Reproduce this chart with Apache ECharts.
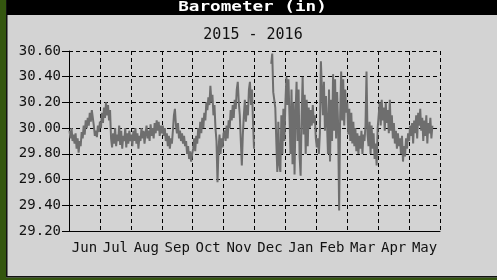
<!DOCTYPE html>
<html>
<head>
<meta charset="utf-8">
<script src="https://cdn.jsdelivr.net/npm/echarts@6/dist/echarts.min.js"></script>
<style>
    html, body { margin: 0; padding: 0; background: #d3d3d3; }
    #chart { width: 497px; height: 280px; }
</style>
</head>
<body>
<div id="chart"></div>
<script>
const months = ['Jun', 'Jul', 'Aug', 'Sep', 'Oct', 'Nov', 'Dec', 'Jan', 'Feb', 'Mar', 'Apr', 'May'];
const yTicks = { min: 29.2, max: 30.6, step: 0.2 };
const N = null;

// daily pressure (in), one value per day, Jun 2015 .. May 2016
const jun = [29.98, 29.92, 30.00, 29.90, 29.95, 29.88, 29.96, 29.84, 29.92, 29.81, 29.90, 29.86, 29.97, 29.92, 30.02, 29.95, 30.06, 30.00, 30.08, 30.02, 30.12, 30.05, 30.14, 30.08, 30.02, 29.94, 29.98, 29.93, 30.02, 29.97];
const jul = [30.05, 30.00, 30.12, 30.04, 30.16, 30.08, 30.20, 30.10, 30.18, 30.06, 30.14, 29.92, 29.85, 29.96, 29.88, 30.00, 29.86, 29.95, 29.90, 30.02, 29.87, 29.98, 29.84, 29.94, 29.90, 30.00, 29.85, 29.96, 29.88, 29.98, 29.90];
const aug = [29.95, 29.86, 29.98, 29.90, 30.00, 29.88, 29.96, 29.84, 29.94, 29.90, 30.00, 29.92, 29.98, 29.88, 29.96, 30.02, 29.92, 29.98, 29.90, 30.03, 29.94, 30.00, 29.92, 30.04, 29.96, 30.06, 29.98, 30.05, 29.94, 30.02, 29.96];
const sep = [30.02, 29.94, 30.00, 29.90, 29.96, 29.86, 29.94, 29.84, 29.92, 29.88, 29.98, 30.10, 30.15, 30.02, 29.96, 30.04, 29.92, 29.98, 29.90, 29.96, 29.88, 29.94, 29.86, 29.90, 29.80, 29.86, 29.76, 29.82, 29.74, 29.80];
const oct = [29.84, 29.92, 29.82, 29.94, 29.88, 30.00, 29.92, 30.05, 29.96, 30.08, 30.00, 30.12, 30.06, 30.20, 30.14, 30.24, 30.18, 30.33, 30.20, 30.26, 30.10, 30.18, 30.00, 29.90, 29.58, 29.84, 29.95, 29.80, 29.92, 29.85, 29.96];
const nov = [29.98, 29.90, 30.02, 29.92, 30.06, 30.00, 30.14, 30.06, 30.18, 30.08, 30.22, 30.15, 30.30, 30.36, 30.20, 30.10, 29.90, 29.71, 29.95, 30.10, 30.22, 30.05, 30.18, 30.10, 30.30, 30.36, 30.18, 30.30, 30.06, 29.84];
const dec = [N, N, N, N, N, N, N, N, N, N, N, N, N, N, N, N, 30.50, 30.58, 30.28, 30.22, 30.16, 29.90, 29.66, 30.05, 29.72, 29.66, 30.10, 29.80, 30.15, 29.90, 30.20];
const jan = [30.40, 30.18, 30.38, 30.10, 29.80, 30.30, 29.72, 30.20, 29.64, 30.12, 30.36, 29.90, 30.30, 29.78, 29.63, 30.10, 30.40, 29.95, 30.26, 29.80, 30.22, 29.86, 30.16, 30.00, 30.14, 30.02, 30.18, 30.04, 30.10, 29.92, 29.85];
const feb = [29.92, 29.80, 29.96, 30.52, 30.30, 30.10, 30.36, 29.98, 30.25, 30.04, 29.80, 30.30, 29.74, 30.22, 29.90, 30.42, 29.98, 30.38, 29.92, 30.28, 30.02, 29.36, 30.10, 30.44, 30.06, 30.38, 30.02, 30.30, 30.12];
const mar = [30.20, 29.95, 30.15, 29.90, 30.12, 29.88, 30.05, 29.86, 30.00, 29.82, 29.96, 29.80, 29.94, 29.84, 29.98, 29.80, 29.95, 29.90, 30.02, 30.44, 29.95, 29.86, 30.05, 29.80, 30.02, 29.84, 29.96, 29.76, 29.88, 29.71, 30.00];
const apr = [30.10, 30.20, 30.02, 30.22, 30.06, 30.16, 29.98, 30.20, 30.04, 30.14, 29.96, 30.22, 29.98, 30.10, 29.92, 30.04, 29.88, 29.98, 29.84, 29.96, 29.86, 29.92, 29.80, 29.94, 29.74, 29.86, 29.78, 29.92, 29.84, 29.96];
const may = [29.90, 30.02, 29.94, 30.04, 29.88, 30.06, 29.96, 30.10, 29.92, 30.12, 30.02, 30.15, 29.98, 30.08, 29.90, 30.06, 29.94, 30.10, 29.88, 30.04, 29.96, 30.08, 29.92, 30.02, N, N, N, N, N, N, N];

const daily = [].concat(jun, jul, aug, sep, oct, nov, dec, jan, feb, mar, apr, may);
const seriesData = daily.map((v, i) => [i + 0.5, v === null ? '-' : v]);

const mono = 'DejaVu Sans Mono';
const chart = echarts.init(document.getElementById('chart'));
chart.setOption({
    backgroundColor: '#d3d3d3',
    animation: false,
    grid: { left: 69, right: 57, top: 51, bottom: 49 },
    graphic: [
        { type: 'rect', shape: { x: 0, y: 0, width: 6, height: 280 }, style: { fill: '#34560f' } },
        { type: 'rect', shape: { x: 6, y: 0, width: 1.5, height: 277 }, style: { fill: '#111' } },
        { type: 'rect', shape: { x: 0, y: 277.5, width: 497, height: 3 }, style: { fill: '#34560f' } },
        { type: 'rect', shape: { x: 6, y: 276, width: 491, height: 1.5 }, style: { fill: '#111' } },
        { type: 'rect', shape: { x: 7, y: 0, width: 490, height: 15 }, style: { fill: '#000' } },
        {
            type: 'text', x: 252.5, y: 7, scaleX: 1.26,
            style: { text: 'Barometer (in)', fill: '#fff', font: 'bold 14px "DejaVu Sans Mono"', textAlign: 'center', textVerticalAlign: 'middle' }
        },
        {
            type: 'text', x: 253, y: 35,
            style: { text: '2015 - 2016', fill: '#111', font: '15px "DejaVu Sans Mono"', textAlign: 'center', textVerticalAlign: 'middle' }
        }
    ],
    xAxis: [
        {
            type: 'category',
            data: months,
            boundaryGap: true,
            axisLine: { lineStyle: { color: '#000', width: 1 } },
            axisTick: { length: 8, interval: 0, lineStyle: { color: '#000' } },
            axisLabel: { color: '#111', fontFamily: mono, fontSize: 14, margin: 10, interval: 0 },
            splitLine: { show: true, interval: 0, lineStyle: { color: '#000', type: [4, 3], width: 1 } }
        },
        { type: 'value', min: 0, max: daily.length, show: false }
    ],
    yAxis: {
        type: 'value',
        min: yTicks.min,
        max: yTicks.max,
        interval: yTicks.step,
        axisLine: { show: true, lineStyle: { color: '#000', width: 1 } },
        axisTick: { show: true, length: 7, lineStyle: { color: '#000' } },
        axisLabel: { color: '#111', fontFamily: mono, fontSize: 14, margin: 8, formatter: v => v.toFixed(2) },
        splitLine: { show: true, lineStyle: { color: '#000', type: [4, 3], width: 1 } }
    },
    series: [{
        type: 'line',
        xAxisIndex: 1,
        data: seriesData,
        symbol: 'none',
        connectNulls: false,
        lineStyle: { color: '#6e6e6e', width: 2 }
    }]
});
</script>
</body>
</html>
